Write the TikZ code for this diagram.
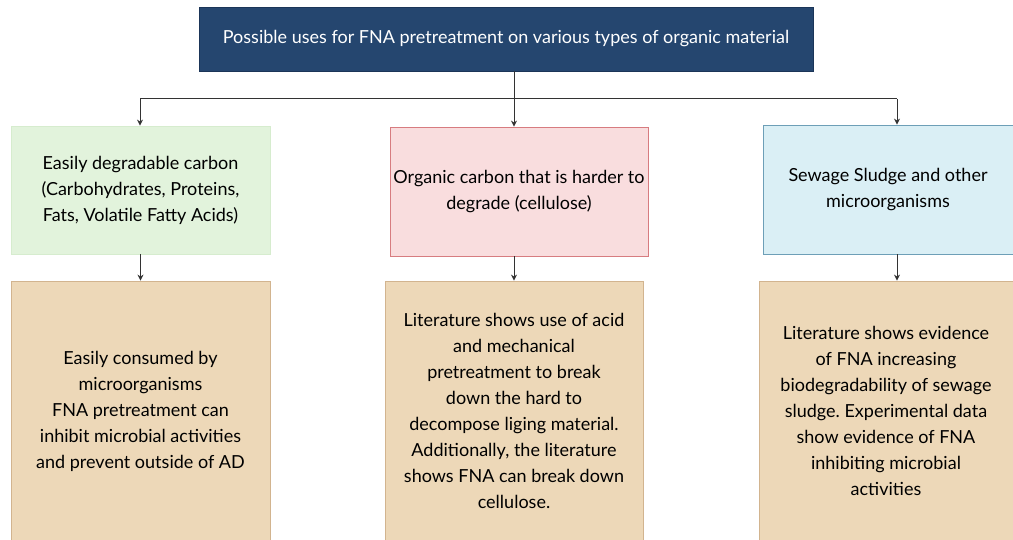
\documentclass[tikz,border=0pt]{standalone}
\usepackage{fontspec}
\setmainfont{Lato}
\usepackage{xcolor}
\usepackage{tikz}
\usetikzlibrary{arrows.meta,positioning,calc}
\frenchspacing
\definecolor{navy}{HTML}{25466F}
\definecolor{navyline}{HTML}{1B3558}
\definecolor{greenfill}{HTML}{E2F3DC}
\definecolor{greenline}{HTML}{D6ECCE}
\definecolor{pinkfill}{HTML}{F9DDDE}
\definecolor{pinkline}{HTML}{D77C80}
\definecolor{bluefill}{HTML}{DAEFF5}
\definecolor{blueline}{HTML}{6D9FB7}
\definecolor{tanfill}{HTML}{EDD8B8}
\definecolor{tanline}{HTML}{D2B48F}
\definecolor{wire}{HTML}{333333}
\tikzset{
  title/.style={rectangle, draw=navyline, fill=navy, text=white, minimum width=614pt, minimum height=64pt, font=\fontsize{18}{24}\selectfont}, % Define the title style
  kind/.style={rectangle, line width=0.8pt, align=center, font=\fontsize{18}{26}\selectfont, text=black}, % Define the material style
  use/.style={rectangle, draw=tanline, fill=tanfill, line width=0.8pt, align=center, font=\fontsize{18}{26}\selectfont, text=black}, % Define the use style
  link/.style={draw=wire, line width=1pt},
  arr/.style={link, -{Stealth[length=6pt,width=6pt]}}
}
\begin{document}
\begin{tikzpicture}[x=1pt,y=-1pt]
    \useasboundingbox (0,0) rectangle (1013,540);

    % Title
    \node[title] (top) at (506,39) {Possible uses for FNA pretreatment on various types of organic material};

    % Types of organic material
    \node[kind, draw=greenline, fill=greenfill, minimum width=259pt, minimum height=128pt] (easy) at (140.5,190) {Easily degradable carbon\\(Carbohydrates, Proteins,\\Fats, Volatile Fatty Acids)};
    \node[kind, draw=pinkline, fill=pinkfill, minimum width=258pt, minimum height=129pt] (hard) at (519,191.5) {Organic carbon that is harder to\\degrade (cellulose)};
    \node[kind, draw=blueline, fill=bluefill, minimum width=250pt, minimum height=129pt] (sludge) at (888,189.5) {Sewage Sludge and other\\microorganisms};

    % Uses
    \node[use, minimum width=259pt, minimum height=260pt] (consumed) at (140.5,411) {Easily consumed by\\microorganisms\\FNA pretreatment can\\inhibit microbial activities\\and prevent outside of AD};
    \node[use, minimum width=258pt, minimum height=260pt] (acid) at (514,411) {Literature shows use of acid\\and mechanical\\pretreatment to break\\down the hard to\\decompose liging material.\\Additionally, the literature\\shows FNA can break down\\cellulose.};
    \node[use, minimum width=254pt, minimum height=260pt] (evidence) at (886,411) {Literature shows evidence\\of FNA increasing\\biodegradability of sewage\\sludge. Experimental data\\show evidence of FNA\\inhibiting microbial\\activities};

    % Branch points
    \coordinate (ldrop) at (140,99);
    \coordinate (rdrop) at (897,99);

    % Connectors
    \draw[link] (ldrop) -- (rdrop);
    \draw[arr] (top.south -| acid.north) -- (acid.north |- hard.north);
    \draw[arr] (ldrop) -- (ldrop |- easy.north);
    \draw[arr] (rdrop) -- (rdrop |- sludge.north);
    \draw[arr] (easy.south -| consumed.north) -- (consumed.north);
    \draw[arr] (hard.south -| acid.north) -- (acid.north);
    \draw[arr] (sludge.south -| rdrop) -- (rdrop |- evidence.north);
\end{tikzpicture}
\end{document}
